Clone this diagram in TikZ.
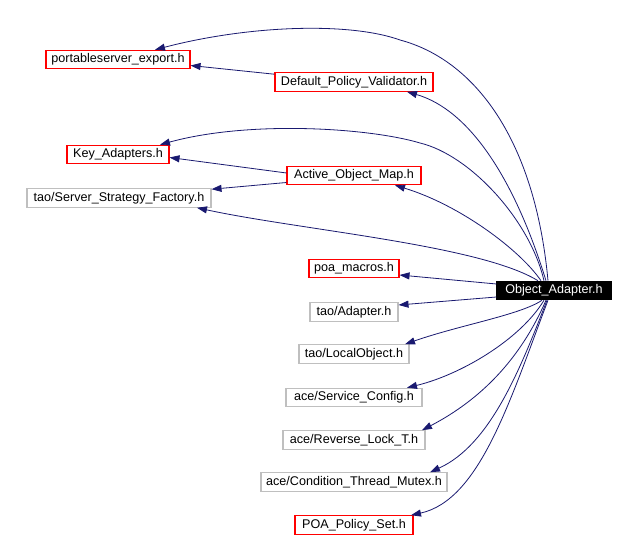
\documentclass[tikz,border=0pt]{standalone}
\usepackage{fontspec}
\setmainfont{Liberation Sans}
\usetikzlibrary{arrows.meta}
\definecolor{edgeblue}{HTML}{191970}
\definecolor{boxgrey}{HTML}{BFBFBF}
\definecolor{boxred}{HTML}{FF0000}
\begin{document}
\begin{tikzpicture}[x=1pt,y=-1pt,
  hdr/.style={draw,line width=1.05pt,minimum height=18.5pt,inner sep=0pt,font=\fontsize{12.6}{14}\selectfont},
  redbox/.style={hdr,draw=boxred},
  greybox/.style={hdr,draw=boxgrey},
  mainbox/.style={hdr,draw=black,fill=black,text=white},
  dep/.style={draw=edgeblue,line width=0.8pt,-{Triangle[length=10pt,width=7pt]}}]
\path[use as bounding box,fill=white] (0,0) rectangle (633,537);
\node[redbox,minimum width=144pt] (pe) at (118,59.5) {portableserver\_export.h};
\node[redbox,minimum width=158pt] (dpv) at (354,82) {Default\_Policy\_Validator.h};
\node[redbox,minimum width=102pt] (ka) at (118,154.5) {Key\_Adapters.h};
\node[redbox,minimum width=134pt] (aom) at (354,175.5) {Active\_Object\_Map.h};
\node[greybox,minimum width=184pt] (ssf) at (119,198) {tao/Server\_Strategy\_Factory.h};
\node[redbox,minimum width=90pt] (pm) at (354,268.5) {poa\_macros.h};
\node[mainbox,minimum width=114pt] (oa) at (554,290.5) {Object\_Adapter.h};
\node[greybox,minimum width=88pt] (ad) at (354,312) {tao/Adapter.h};
\node[greybox,minimum width=110pt] (lo) at (354,354) {tao/LocalObject.h};
\node[greybox,minimum width=136pt] (sc) at (354,397.5) {ace/Service\_Config.h};
\node[greybox,minimum width=142pt] (rl) at (354,440) {ace/Reverse\_Lock\_T.h};
\node[greybox,minimum width=186pt] (ctm) at (354,482) {ace/Condition\_Thread\_Mutex.h};
\node[redbox,minimum width=118pt] (pps) at (354,525) {POA\_Policy\_Set.h};
\coordinate (m1) at (400,40);
\coordinate (m3) at (420,143);
% edges from Object_Adapter
\draw[dep] ([xshift=-6pt]oa.north) .. controls (535,140) and (475,60) .. (m1)
   .. controls (350,22) and (250,25) .. ([xshift=37pt]pe.north);
\draw[dep] ([xshift=-8pt]oa.north) .. controls (515,180) and (470,110) .. ([xshift=53pt]dpv.south);
\draw[dep] ([xshift=-10pt]oa.north) .. controls (530,220) and (470,155) .. (m3)
   .. controls (370,128) and (250,120) .. ([xshift=42pt]ka.north);
\draw[dep] ([xshift=-13pt]oa.north) .. controls (520,250) and (460,205) .. ([xshift=41pt]aom.south);
\draw[dep] ([xshift=-16pt]oa.north) .. controls (480,245) and (300,230) .. ([xshift=78pt]ssf.south);
\draw[dep] ([yshift=6.5pt]oa.west) -- ([yshift=-6.5pt]pm.east);
\draw[dep] ([yshift=-6.5pt]oa.west) -- ([yshift=7pt]ad.east);
\draw[dep] ([xshift=-12pt]oa.south) .. controls (520,315) and (460,325) .. ([xshift=51pt]lo.north);
\draw[dep] ([xshift=-10pt]oa.south) .. controls (520,340) and (460,375) .. ([xshift=53pt]sc.north);
\draw[dep] ([xshift=-8pt]oa.south) .. controls (520,360) and (480,400) .. ([xshift=68pt]rl.north);
\draw[dep] ([xshift=-7pt]oa.south) .. controls (520,370) and (490,445) .. ([xshift=76pt]ctm.north);
\draw[dep] ([xshift=-6pt]oa.south) .. controls (510,400) and (480,500) .. ([xshift=57pt]pps.north);
% other edges
\draw[dep] ([yshift=-2pt]dpv.north west) -- ([yshift=-6pt]pe.east);
\draw[dep] ([yshift=2.5pt]aom.west) -- ([yshift=-3pt]ka.east);
\draw[dep] ([yshift=-7pt]aom.west) -- ([yshift=-1pt]ssf.north east);
\end{tikzpicture}
\end{document}
